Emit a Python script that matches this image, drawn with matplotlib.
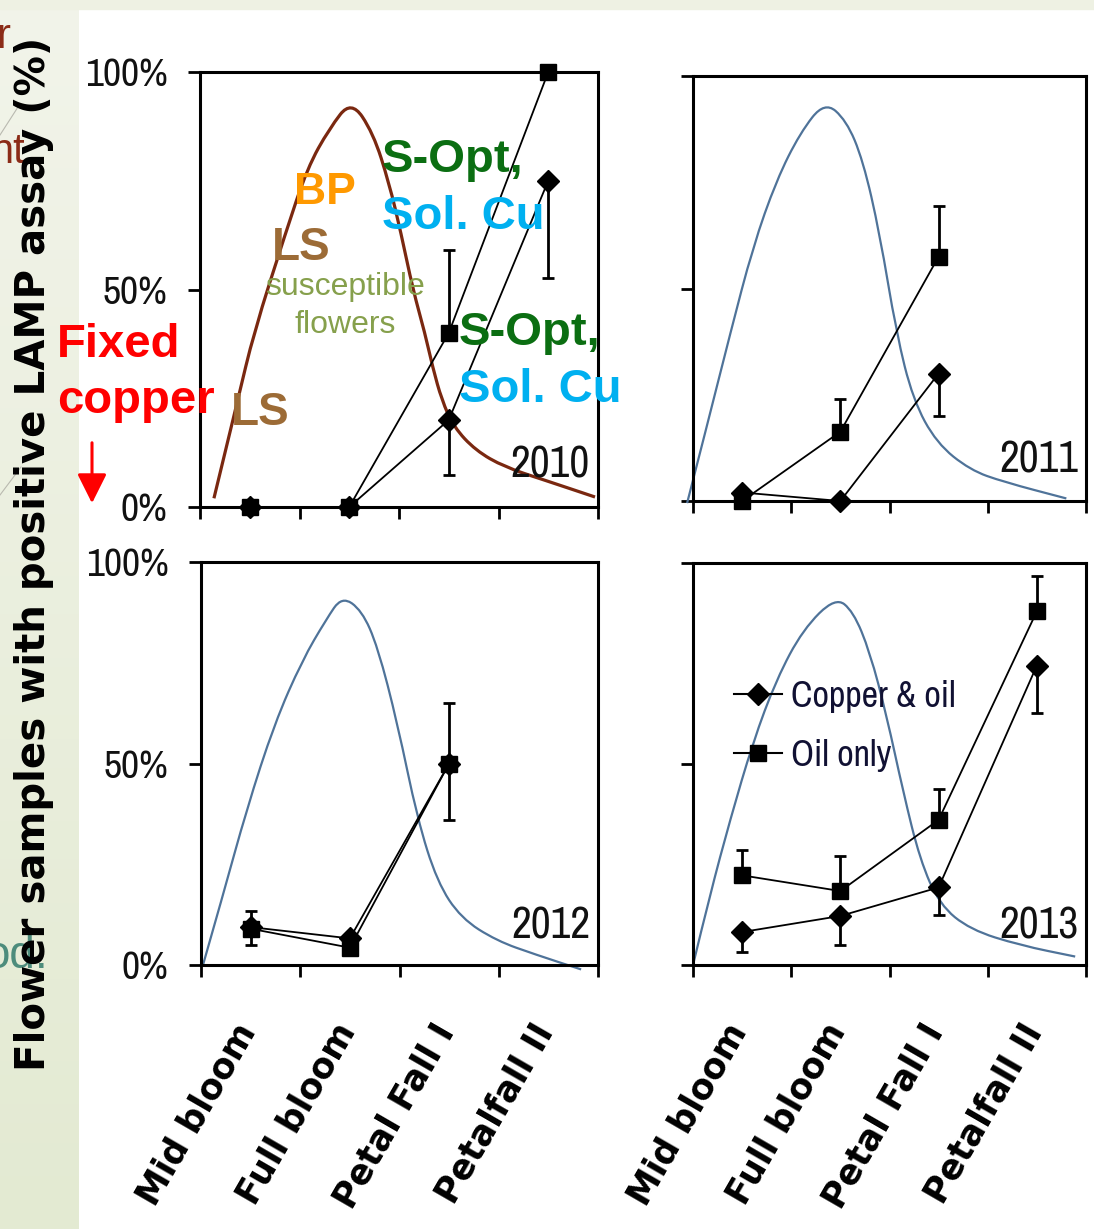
import numpy as np
import matplotlib
matplotlib.use("Agg")
import matplotlib.pyplot as plt
from matplotlib import font_manager
from matplotlib.lines import Line2D
from matplotlib.path import Path
from matplotlib.patches import Rectangle, FancyArrowPatch, PathPatch
from matplotlib.transforms import ScaledTranslation

# ───────────────────────────── canvas ─────────────────────────────
W, H = 1094, 1229

# ───────────────────────────── data ───────────────────────────────
STAGES = ["Mid bloom", "Full bloom", "Petal Fall I", "Petalfall II"]
YEARS = ["2010", "2011", "2012", "2013"]
Y_TICKS = [0, 50, 100]
Y_TICK_LABELS = ["0%", "50%", "100%"]
NAN = np.nan

# Copper & oil (diamonds) / Oil only (squares), % positive
COPPER = {
    "2010": [0, 0, 20, 75],
    "2011": [2, 0, 30, NAN],
    "2012": [9.4, 6.6, 50, NAN],
    "2013": [8.2, 12.2, 19.3, 74.5],
}
COPPER_ERR_LO = {
    "2010": [0, 0, 12.7, 22.3],
    "2011": [0, 0, 10, 0],
    "2012": [4.5, 0, 14, 0],
    "2013": [5, 7.3, 6.8, 11.8],
}
COPPER_ERR_HI = {
    "2010": [0, 0, 0, 0],
    "2011": [0, 0, 0, 0],
    "2012": [4, 0, 15, 0],
    "2013": [0, 0, 0, 0],
}
OIL = {
    "2010": [0, 0, 40, 100],
    "2011": [0, 16.3, 57.5, NAN],
    "2012": [9, 4.3, 50, NAN],
    "2013": [22.3, 18.4, 36.1, 88],
}
OIL_ERR_LO = {
    "2010": [0, 0, 0, 0],
    "2011": [0, 0, 0, 0],
    "2012": [0, 0, 0, 0],
    "2013": [0, 0, 0, 0],
}
OIL_ERR_HI = {
    "2010": [0, 0, 19, 0],
    "2011": [0, 7.7, 12, 0],
    "2012": [0, 0, 0, 0],
    "2013": [6.4, 8.7, 7.8, 8.7],
}

# bloom (susceptible flowers) curves: x in stage units
BLOOM_X = {
    "2010": [-0.36, -0.12, 0.04, 0.36, 0.58, 0.80, 1.02, 1.24, 1.40, 1.52,
             1.64, 1.76, 1.84, 1.93, 2.05, 2.27, 2.56, 2.96, 3.47],
    "2011": [-0.56, -0.36, -0.12, 0.11, 0.35, 0.59, 0.84, 1.06, 1.23, 1.40,
             1.57, 1.74, 1.98, 2.32, 2.66, 3.30],
    "2012": [-0.48, -0.28, -0.04, 0.24, 0.52, 0.76, 0.92, 1.12, 1.28, 1.48,
             1.68, 1.88, 2.12, 2.48, 2.87, 3.33],
    "2013": [-0.49, -0.33, -0.12, 0.11, 0.35, 0.62, 0.95, 1.13, 1.30, 1.47,
             1.64, 1.81, 2.01, 2.32, 2.83, 3.39],
}
BLOOM_Y = {
    "2010": [2, 24.6, 40, 63, 78, 87, 93.5, 86, 74.5, 63,
             50, 40, 32, 24.6, 18.4, 13, 9.2, 6.2, 2.3],
    "2011": [-0.5, 17.5, 39.5, 59.8, 75.5, 86.6, 94, 89.6, 80.2, 63,
             39.5, 23.8, 13.6, 7.3, 4.5, 0.6],
    "2012": [0, 17.2, 38.6, 59.9, 75.6, 85.7, 91.5, 88, 79, 59.9,
             36.3, 20.6, 11.6, 6, 2.6, -1.1],
    "2013": [1, 17.2, 36.3, 55.4, 71.1, 83.5, 91.5, 88, 77.9, 62.1,
             43, 26.2, 15, 8.8, 4.9, 2.1],
}
BLOOM_COLOR = {"2010": "#7a2810", "2011": "#4f7399", "2012": "#4f7399", "2013": "#4f7399"}

LEGEND_LABELS = ["Copper & oil", "Oil only"]
Y_LABEL = "Flower samples with positive LAMP assay (%)"

# ───────────────────────────── fonts ──────────────────────────────
_installed = {f.name for f in font_manager.fontManager.ttflist}


def _first_font(cands, default="Liberation Sans"):
    return next((n for n in cands if n in _installed), default)


NARROW = _first_font(["Liberation Sans Narrow", "Arimo Narrow", "Pragati Narrow",
                      "PT Sans Narrow", "Archivo Narrow", "Roboto Condensed"])
LEGEND_FONT = _first_font(["Liberation Sans Narrow", "Archivo Narrow", "PT Sans Narrow"], NARROW)
SLIDE = "Liberation Sans"
plt.rcParams["font.family"] = [SLIDE, "DejaVu Sans"]


def px_axes(fig, left, top, right, bottom):
    return fig.add_axes([left / W, 1 - bottom / H, (right - left) / W, (bottom - top) / H])


def ftext(fig, x, y, s, **kw):
    """Place text at pixel coordinates (origin top-left)."""
    return fig.text(x / W, 1 - y / H, s, **kw)


def smooth_path(xs, ys):
    """Quadratic Bezier chain through midpoints, read points as controls."""
    pts = np.column_stack([xs, ys])
    verts, codes = [pts[0]], [Path.MOVETO]
    for i in range(1, len(pts) - 1):
        verts += [pts[i], (pts[i] + pts[i + 1]) / 2]
        codes += [Path.CURVE3, Path.CURVE3]
    verts.append(pts[-1])
    codes.append(Path.LINETO)
    return Path(verts, codes)


def draw_panel(fig, ax, year, bottom_row, show_ylabels, legend=False):
    xs = np.arange(len(STAGES))
    ax.add_patch(PathPatch(smooth_path(BLOOM_X[year], BLOOM_Y[year]), fill=False,
                           edgecolor=BLOOM_COLOR[year], lw=2.3 if year == "2010" else 1.6,
                           clip_on=False, zorder=2))

    for vals, lo, hi, mk, ms in [
        (OIL[year], OIL_ERR_LO[year], OIL_ERR_HI[year], "s", 11.5),
        (COPPER[year], COPPER_ERR_LO[year], COPPER_ERR_HI[year], "D", 11),
    ]:
        v = np.array(vals, dtype=float)
        ok = ~np.isnan(v)
        ax.errorbar(xs[ok], v[ok], yerr=[np.array(lo)[ok], np.array(hi)[ok]],
                    fmt="none", ecolor="black", elinewidth=2, capsize=4,
                    capthick=2, clip_on=False, zorder=4)
        ax.plot(xs[ok], v[ok], color="black", lw=1.3, marker=mk, ms=ms,
                mfc="black", mec="black", clip_on=False, zorder=5)

    ax.set_xlim(-0.5, len(STAGES) - 0.5)
    ax.set_ylim(0, 100)
    for sp in ax.spines.values():
        sp.set_linewidth(2.2)

    # ticks sit on the stage boundaries, labels under the stage centres
    ax.set_xticks(np.arange(len(STAGES) + 1) - 0.5)
    ax.set_xticklabels([])
    ax.tick_params(axis="x", direction="out", length=8.5, width=2)
    if bottom_row:
        shift = ScaledTranslation(6 / 100, -66 / 100, fig.dpi_scale_trans)
        for x, name in zip(xs, STAGES):
            ax.text(x, 0, name, transform=ax.get_xaxis_transform() + shift,
                    rotation=60, rotation_mode="anchor", ha="right", va="baseline",
                    fontsize=25, family="DejaVu Sans", fontweight="bold",
                    color="black", clip_on=False)

    ax.set_yticks(Y_TICKS)
    if show_ylabels:
        ax.set_yticklabels(Y_TICK_LABELS, family=NARROW, fontsize=31, color="#111111")
    else:
        ax.set_yticklabels([])
    ax.tick_params(axis="y", direction="out", length=8.5, width=2, pad=15)

    ax.text(0.98, 0.095, year, transform=ax.transAxes, ha="right", va="center",
            family=NARROW, fontsize=34, color="#111111", zorder=6)

    if legend:
        handles = [
            Line2D([], [], color="black", lw=1.5, marker="D", ms=11),
            Line2D([], [], color="black", lw=1.5, marker="s", ms=11.5),
        ]
        ax.legend(handles, LEGEND_LABELS, loc="upper left",
                  bbox_to_anchor=(0.105, 0.71), frameon=False, borderpad=0,
                  borderaxespad=0, handlelength=1.33, handletextpad=0.25,
                  labelspacing=0.72, prop={"family": LEGEND_FONT, "size": 26},
                  labelcolor="#111133")


def main():
    fig = plt.figure(figsize=(W / 100, H / 100), dpi=100)
    fig.patch.set_facecolor("white")

    # slide background: green strip on the left and a thin band on top
    bg = fig.add_axes([0, 0, 79 / W, 1], zorder=-10)
    grad = np.linspace(0, 1, 256)[:, None]
    bg.imshow(grad, aspect="auto", extent=[0, 1, 0, 1],
              cmap=matplotlib.colors.LinearSegmentedColormap.from_list(
                  "strip", ["#f2f4ea", "#e3ead2"]))
    bg.set_axis_off()
    fig.add_artist(Rectangle((0, 1 - 9 / H), 1, 9 / H, transform=fig.transFigure,
                             color="#eef1e3", zorder=-9))

    # leftover slide text, cut by the crop
    ftext(fig, -4, 48, "r", fontsize=30, color="#8b2b17", zorder=1)
    ftext(fig, 25, 163, "nt", ha="right", fontsize=30, color="#8b2b17", zorder=1)
    ftext(fig, 48, 968, "od.", ha="right", fontsize=33, color="#4d8c7c", zorder=1)
    fig.add_artist(Line2D([18 / W, 0], [1 - 107 / H, 1 - 135 / H], color="#b9b9b0",
                          lw=0.8, transform=fig.transFigure, zorder=1))
    fig.add_artist(Line2D([21 / W, 0], [1 - 467 / H, 1 - 495 / H], color="#b9b9b0",
                          lw=0.8, transform=fig.transFigure, zorder=1))

    axes = {
        "2010": px_axes(fig, 200, 72, 598, 507),
        "2011": px_axes(fig, 693, 76, 1086, 501),
        "2012": px_axes(fig, 201, 562, 598, 965),
        "2013": px_axes(fig, 693, 563, 1086, 965),
    }
    draw_panel(fig, axes["2010"], "2010", bottom_row=False, show_ylabels=True)
    draw_panel(fig, axes["2011"], "2011", bottom_row=False, show_ylabels=False)
    draw_panel(fig, axes["2012"], "2012", bottom_row=True, show_ylabels=True)
    draw_panel(fig, axes["2013"], "2013", bottom_row=True, show_ylabels=False, legend=True)

    ftext(fig, 34, 554, Y_LABEL, rotation=90, ha="center", va="center",
          family="DejaVu Sans", fontweight="bold", fontsize=29, color="black", zorder=3)

    # annotations on the 2010 panel
    bold = dict(fontweight="bold", va="baseline", ha="left", zorder=7)
    ftext(fig, 294, 204, "BP", fontsize=32, color="#ff9900", **bold)
    ftext(fig, 272, 260, "LS", fontsize=33, color="#9c6b36", **bold)
    ftext(fig, 345, 295, "susceptible", fontsize=23, color="#86a04c",
          ha="center", va="baseline", zorder=7)
    ftext(fig, 345, 333, "flowers", fontsize=23, color="#86a04c",
          ha="center", va="baseline", zorder=7)
    ftext(fig, 382, 172, "S-Opt,", fontsize=34, color="#0b6e12", **bold)
    ftext(fig, 382, 229, "Sol. Cu", fontsize=34, color="#00b0f0", **bold)
    ftext(fig, 459, 345, "S-Opt,", fontsize=34, color="#0b6e12", **bold)
    ftext(fig, 459, 402, "Sol. Cu", fontsize=34, color="#00b0f0", **bold)
    ftext(fig, 231, 425, "LS", fontsize=33, color="#9c6b36", **bold)
    ftext(fig, 57, 357, "Fixed", fontsize=34, color="#ff0000", **bold)
    ftext(fig, 57, 413, "copper", fontsize=34, color="#ff0000", **bold)
    fig.add_artist(FancyArrowPatch((92 / W, 1 - 440 / H), (92 / W, 1 - 506 / H),
                                   transform=fig.transFigure,
                                   arrowstyle="-|>,head_length=0.9,head_width=0.45",
                                   mutation_scale=20, color="#ff0000", lw=2.2, zorder=7))

    fig.savefig("out.png", dpi=100, facecolor=fig.get_facecolor())


if __name__ == "__main__":
    main()
